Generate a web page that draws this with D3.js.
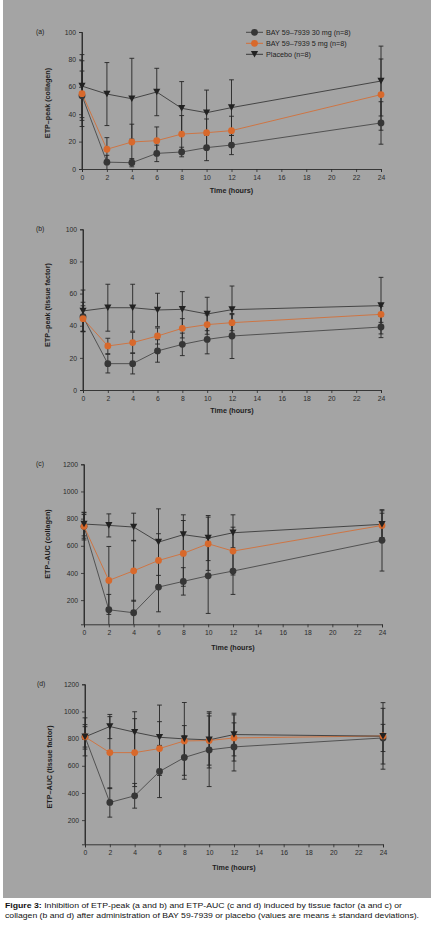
<!DOCTYPE html>
<html>
<head>
<meta charset="utf-8">
<script src="https://cdn.jsdelivr.net/npm/d3@7"></script>
<style>
html,body{margin:0;padding:0;background:#fff;}
svg{display:block;}
</style>
</head>
<body>
<svg id="chart" width="431" height="930"></svg>
<script>
// ---------- DATA ----------
const times = [0, 2, 4, 6, 8, 10, 12, 24];
const xTickValues = [0, 2, 4, 6, 8, 10, 12, 14, 16, 18, 20, 22, 24];
const peakTicks = [0, 20, 40, 60, 80, 100];
const aucTicks = [200, 400, 600, 800, 1000, 1200];
const seriesNames = ["BAY 59\u20137939 30 mg (n=8)", "BAY 59\u20137939 5 mg (n=8)", "Placebo (n=8)"];

// (a) ETP-peak (collagen)
const a30 = [53.5, 5.0, 4.6, 11.4, 12.4, 15.6, 17.5, 33.6];
const a30sd = [18, 5, 3, 6, 3.5, 9.5, 7, 15.5];
const a5 = [55, 14.4, 19.7, 20.7, 25.5, 26.5, 28, 54.3];
const a5sd = [24, 8.5, 13, 10, 13.5, 10, 10.5, 26];
const aPl = [60.5, 54.7, 51.3, 56.2, 44.3, 41.1, 44.8, 64.2];
const aPlsd = [23, 23, 29.5, 17.3, 19.5, 16.5, 20.3, 25.5];

// (b) ETP-peak (tissue factor)
const b30 = [45.6, 16.4, 16.4, 24.3, 28.4, 31.5, 33.6, 39.2];
const b30sd = [9, 5.8, 6.4, 7, 7, 9, 14, 6.6];
const b5 = [44.4, 27.4, 29.5, 33.6, 38.4, 40.7, 41.9, 47.1];
const b5sd = [8, 4.8, 6.4, 5, 6, 6, 5, 5];
const bPl = [49.2, 51.2, 51.2, 49.8, 50.2, 47.3, 50, 52.5];
const bPlsd = [13, 14.6, 14.6, 10.4, 11, 10.4, 14.7, 17.6];

// (c) ETP-AUC (collagen)
const c30 = [743, 129, 107, 296, 338, 379, 414, 640];
const c30sd = [100, 113, 92, 182, 101, 277, 172, 226];
const c5 = [743, 345, 416, 492, 544, 615, 561, 750];
const c5sd = [87, 250, 224, 197, 242, 196, 176, 90];
const cPl = [760, 750, 738, 627, 682, 657, 696, 758];
const cPlsd = [87, 85, 102, 245, 146, 166, 132, 100];

// (d) ETP-AUC (tissue factor)
const d30 = [813, 330, 379, 558, 661, 717, 739, 805];
const d30sd = [90, 108, 91, 192, 160, 270, 177, 100];
const d5 = [813, 697, 697, 727, 783, 786, 805, 820];
const d5sd = [75, 265, 250, 198, 113, 181, 170, 245];
const dPl = [813, 889, 847, 810, 798, 791, 830, 818];
const dPlsd = [140, 89, 151, 237, 268, 207, 157, 205];

// ---------- STYLE / LAYOUT ----------
const BG = "#a4a4a4";
const INK = "#1e1e1e";
const DARK = "#363636";
const ORANGE = "#d8692c";
const FONT = "'Liberation Sans', Arial, Helvetica, sans-serif";

const panels = [
  {label:"(a)", title:"ETP\u2013peak (collagen)", s30:a30, s30sd:a30sd, s5:a5, s5sd:a5sd, pl:aPl, plsd:aPlsd,
   yDomain:[0,100], yTicks:peakTicks, x0:82, x1:381, yb:169, yt:32, titleY:193, ylabX:48, ylabY:103, labX:36, labY:34, legend:true},
  {label:"(b)", title:"ETP\u2013peak (tissue factor)", s30:b30, s30sd:b30sd, s5:b5, s5sd:b5sd, pl:bPl, plsd:bPlsd,
   yDomain:[0,100], yTicks:peakTicks, x0:83, x1:381, yb:390, yt:229.3, titleY:413, ylabX:48.5, ylabY:305, labX:36, labY:231},
  {label:"(c)", title:"ETP\u2013AUC (collagen)", s30:c30, s30sd:c30sd, s5:c5, s5sd:c5sd, pl:cPl, plsd:cPlsd,
   yDomain:[22,1200], yTicks:aucTicks, x0:84, x1:382, yb:624.3, yt:464.3, titleY:650, ylabX:48.5, ylabY:544, labX:36, labY:466},
  {label:"(d)", title:"ETP\u2013AUC (tissue factor)", s30:d30, s30sd:d30sd, s5:d5, s5sd:d5sd, pl:dPl, plsd:dPlsd,
   yDomain:[22,1200], yTicks:aucTicks, x0:85, x1:383, yb:844.3, yt:684.3, titleY:870, ylabX:50, ylabY:767, labX:37, labY:686}
];

const svg = d3.select("#chart");
svg.append("rect").attr("x",0).attr("y",0).attr("width",431).attr("height",930).attr("fill","#ffffff");
svg.append("rect").attr("x",3).attr("y",0).attr("width",428).attr("height",898).attr("fill",BG);

const triPath = "M-3.6,-3 L3.6,-3 L0,3.6 Z";

function drawMarker(g, type, x, y) {
  if (type === "pl") {
    g.append("path").attr("d", triPath).attr("transform", `translate(${x},${y - 0.3})`).attr("fill", "#222");
  } else {
    g.append("circle").attr("cx", x).attr("cy", y).attr("r", 3.4)
      .attr("fill", type === "s5" ? ORANGE : DARK);
  }
}

panels.forEach(p => {
  const x = d3.scaleLinear().domain([0, 24]).range([p.x0, p.x1]);
  const y = d3.scaleLinear().domain(p.yDomain).range([p.yb, p.yt]);
  const g = svg.append("g");

  // axes
  const xAxis = d3.axisBottom(x).tickValues(xTickValues).tickSize(3).tickPadding(3).tickFormat(d3.format("d"));
  const gx = g.append("g").attr("transform", `translate(0,${p.yb})`).call(xAxis);
  const yAxis = d3.axisLeft(y).tickValues(p.yTicks).tickSize(3).tickPadding(3).tickFormat(d3.format("d"));
  const gy = g.append("g").attr("transform", `translate(${p.x0},0)`).call(yAxis);
  [gx, gy].forEach(ax => {
    ax.select(".domain").attr("stroke", "#2a2a2a").attr("stroke-width", 0.9);
    ax.selectAll(".tick line").attr("stroke", "#2a2a2a").attr("stroke-width", 0.8);
    ax.selectAll(".tick text").attr("fill", "#2b2b2b").attr("font-family", FONT).attr("font-size", 6.8);
  });
  // extend y axis line to the x axis (for AUC panels whose lowest tick is above)
  g.append("line").attr("x1", p.x0).attr("x2", p.x0).attr("y1", p.yt).attr("y2", p.yb)
    .attr("stroke", "#2a2a2a").attr("stroke-width", 0.9);

  // titles
  g.append("text").attr("x", (p.x0 + p.x1) / 2).attr("y", p.titleY).attr("text-anchor", "middle")
    .attr("font-family", FONT).attr("font-size", 7.2).attr("font-weight", "bold").attr("fill", INK)
    .text("Time (hours)");
  g.append("text").attr("transform", `translate(${p.ylabX},${p.ylabY}) rotate(-90)`).attr("text-anchor", "middle")
    .attr("dominant-baseline", "middle")
    .attr("font-family", FONT).attr("font-size", 7.2).attr("font-weight", "bold").attr("fill", INK)
    .text(p.title);
  g.append("text").attr("x", p.labX).attr("y", p.labY)
    .attr("font-family", FONT).attr("font-size", 6.8).attr("fill", INK).text(p.label);

  const series = [
    {key:"s30", vals:p.s30, sd:p.s30sd, line:"#3c3c3c"},
    {key:"s5", vals:p.s5, sd:p.s5sd, line:ORANGE},
    {key:"pl", vals:p.pl, sd:p.plsd, line:"#2c2c2c"}
  ];

  const line = d3.line().x((d, i) => x(times[i])).y(d => y(d));
  const lo = p.yDomain[0];
  // error bars
  series.forEach(s => {
    s.vals.forEach((v, i) => {
      const cx = x(times[i]);
      const top = y(v + s.sd[i]);
      const bot = y(Math.max(lo, v - s.sd[i]));
      g.append("line").attr("x1", cx).attr("x2", cx).attr("y1", top).attr("y2", bot)
        .attr("stroke", "#262626").attr("stroke-width", 0.9);
      g.append("line").attr("x1", cx - 2.4).attr("x2", cx + 2.4).attr("y1", top).attr("y2", top)
        .attr("stroke", "#262626").attr("stroke-width", 0.9);
      if (v - s.sd[i] > lo) {
        g.append("line").attr("x1", cx - 2.4).attr("x2", cx + 2.4).attr("y1", bot).attr("y2", bot)
          .attr("stroke", "#262626").attr("stroke-width", 0.9);
      }
    });
  });
  // lines
  series.forEach(s => {
    g.append("path").attr("d", line(s.vals)).attr("fill", "none")
      .attr("stroke", s.line).attr("stroke-width", 0.8);
  });
  // markers
  series.forEach(s => {
    s.vals.forEach((v, i) => drawMarker(g, s.key, x(times[i]), y(v)));
  });

  if (p.legend) {
    const keys = ["s30", "s5", "pl"];
    const cols = ["#3c3c3c", ORANGE, "#2c2c2c"];
    keys.forEach((k, i) => {
      const ly = 32.3 + i * 11;
      g.append("line").attr("x1", 246).attr("x2", 263).attr("y1", ly).attr("y2", ly)
        .attr("stroke", cols[i]).attr("stroke-width", 0.9);
      drawMarker(g, k, 254.5, ly);
      g.append("text").attr("x", 266).attr("y", ly).attr("dominant-baseline", "central")
        .attr("font-family", FONT).attr("font-size", 7.2).attr("fill", INK).text(seriesNames[i]);
    });
  }
});

// caption
const cap = svg.append("g").attr("font-family", FONT).attr("font-size", 7.6).attr("fill", "#111");
const t1 = cap.append("text").attr("x", 5).attr("y", 908).attr("textLength", 397).attr("lengthAdjust", "spacingAndGlyphs");
t1.append("tspan").attr("font-weight", "bold").text("Figure 3:");
t1.append("tspan").text(" Inhibition of ETP-peak (a and b) and ETP-AUC (c and d) induced by tissue factor (a and c) or");
cap.append("text").attr("x", 5).attr("y", 918).attr("textLength", 414).attr("lengthAdjust", "spacingAndGlyphs")
  .text("collagen (b and d) after administration of BAY 59-7939 or placebo (values are means \u00b1 standard deviations).");
</script>
</body>
</html>
